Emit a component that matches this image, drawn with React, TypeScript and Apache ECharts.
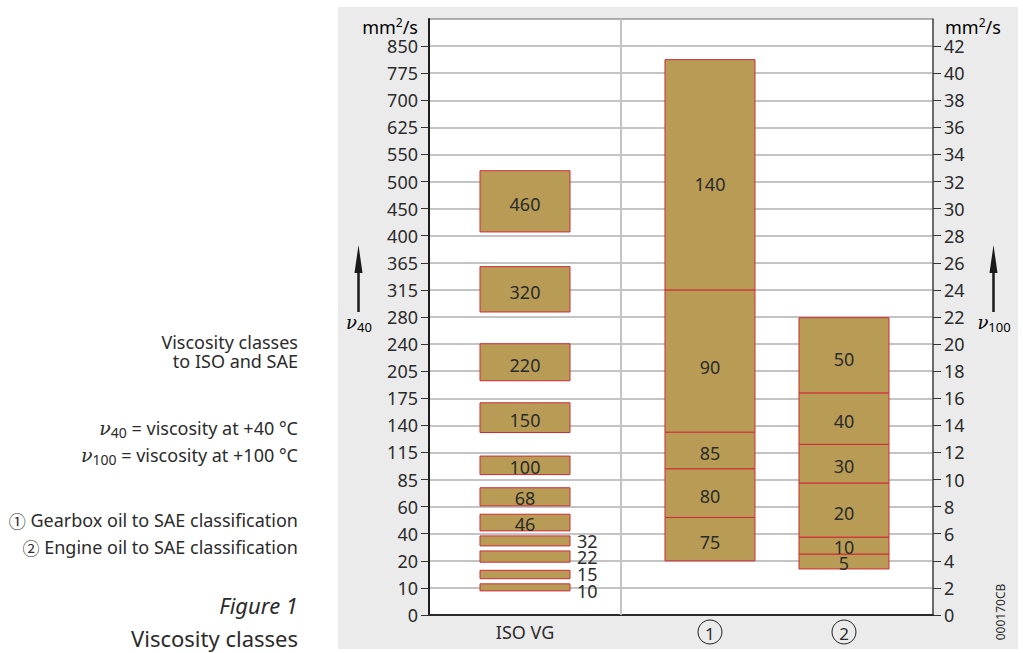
import React, { useEffect, useRef } from "react";
import * as echarts from "echarts";

// ---------- data ----------
// left axis (ν40, mm²/s) tick labels – one per grid step
const leftTickLabels = ["0", "10", "20", "40", "60", "85", "115", "140", "175", "205", "240", "280", "315", "365", "400", "450", "500", "550", "625", "700", "775", "850"];
// right axis (ν100, mm²/s) tick values
const rightTickValues = [0, 2, 4, 6, 8, 10, 12, 14, 16, 18, 20, 22, 24, 26, 28, 30, 32, 34, 36, 38, 40, 42];

const categories = ["ISO VG", "1", "2"];

// ISO VG classes, drawn on the ν40 scale (mm²/s)
const isoClasses = ["10", "15", "22", "32", "46", "68", "100", "150", "220", "320", "460"];
const isoLow = [8.9, 13.4, 19.5, 31, 42.1, 60.7, 90.5, 133.4, 194.4, 286.5, 407];
const isoHigh = [11.5, 16.5, 27.3, 38.4, 54.4, 77.4, 111, 169.2, 240.5, 358, 520];

// SAE gearbox oil classes (ν100, mm²/s) – bounds between consecutive classes
const gearClasses = ["75", "80", "85", "90", "140"];
const gearBounds = [4, 7.2, 10.8, 13.5, 24, 41];

// SAE engine oil classes (ν100, mm²/s)
const engineClasses = ["5", "10", "20", "30", "40", "50"];
const engineBounds = [3.4, 4.5, 5.75, 9.75, 12.6, 16.4, 21.95];

// ---------- layout / style ----------
const FONT = "'Noto Sans', 'Open Sans', sans-serif";
const SERIF = "'DejaVu Serif', 'Liberation Serif', serif";
const TEXT = "#2b2b2b";
const BOX_FILL = "#b89c56";
const BOX_STROKE = "#d02a38";
const GRID_LINE = "#c4c4c4";
const COL_X = [19.05, 55.75, 82.34]; // centre of each column on the 0..100 x scale
const DIVIDER_X = 38.04;
const BOX_W = 90;
const OUTSIDE_LABEL_GAP = 16.5;

const leftTickValues = leftTickLabels.map(Number);
function nu40ToAxis(v: number): number {
  for (let i = 0; i < leftTickValues.length - 1; i++) {
    const a = leftTickValues[i];
    const b = leftTickValues[i + 1];
    if (v <= b) return 2 * i + (2 * (v - a)) / (b - a);
  }
  return 2 * (leftTickValues.length - 1);
}

const boxData: number[][] = [];
const boxLabels: string[] = [];
isoClasses.forEach((c, i) => {
  boxData.push([COL_X[0], nu40ToAxis(isoLow[i]), nu40ToAxis(isoHigh[i])]);
  boxLabels.push(c);
});
gearClasses.forEach((c, i) => {
  boxData.push([COL_X[1], gearBounds[i], gearBounds[i + 1]]);
  boxLabels.push(c);
});
engineClasses.forEach((c, i) => {
  boxData.push([COL_X[2], engineBounds[i], engineBounds[i + 1]]);
  boxLabels.push(c);
});

const catData = categories.map((_, i) => [COL_X[i], 0]);

export default function App() {
  const ref = useRef<HTMLDivElement>(null);

  useEffect(() => {
    if (!ref.current) return;
    const chart = echarts.init(ref.current, undefined, { renderer: "svg" });

    const nuRich = {
      n: { fontFamily: SERIF, fontStyle: "italic", fontSize: 18, color: TEXT },
      s: { fontFamily: FONT, fontSize: 13, padding: [9, 0, 0, 0], color: TEXT },
    };
    const descRich = {
      n: { fontFamily: SERIF, fontStyle: "italic", fontSize: 19, color: TEXT },
      s: { fontFamily: FONT, fontSize: 14, padding: [9, 0, 0, 0], color: TEXT },
      t: { fontFamily: FONT, fontSize: 18, color: TEXT },
      c: { fontFamily: "'Noto Sans CJK SC', sans-serif", fontSize: 17, color: TEXT },
    };
    const unitRich = {
      a: { fontFamily: FONT, fontSize: 18, color: TEXT },
      b: { fontFamily: FONT, fontSize: 12, padding: [0, 0, 9, 0], color: TEXT },
    };

    const txt = (text: string, x: number, y: number, extra: any = {}) => ({
      type: "text",
      x,
      y,
      style: {
        text,
        fill: TEXT,
        fontFamily: FONT,
        fontSize: 18,
        align: "right",
        textAlign: "right",
        verticalAlign: "middle",
        textVerticalAlign: "middle",
        ...extra,
      },
    });

    // vertical positions of labels placed beside thin boxes (spread so they do not collide)
    const outsideY: Record<number, number> = {};

    const option: any = {
      animation: false,
      grid: {
        left: 429,
        right: 90,
        top: 19,
        bottom: 38,
        show: true,
        backgroundColor: "#ffffff",
        borderColor: "#666666",
        borderWidth: 1,
      },
      xAxis: {
        type: "value",
        min: 0,
        max: 100,
        axisLine: { show: true, onZero: false, lineStyle: { color: "#2a2a2a", width: 2 } },
        axisTick: { show: false },
        axisLabel: { show: false },
        splitLine: { show: false },
      },
      yAxis: [
        {
          type: "value",
          position: "left",
          min: 0,
          max: 44,
          interval: 2,
          axisLine: { show: true, lineStyle: { color: "#1e1e1e", width: 2 } },
          axisTick: {
            show: true,
            length: 8,
            customValues: rightTickValues,
            lineStyle: { color: "#333333", width: 1 },
          },
          axisLabel: {
            customValues: rightTickValues,
            margin: 11,
            fontSize: 18,
            fontFamily: FONT,
            color: TEXT,
            formatter: (v: number) => leftTickLabels[Math.round(v / 2)] ?? "",
          },
          splitLine: { show: true, lineStyle: { color: GRID_LINE, width: 2 } },
        },
        {
          type: "value",
          position: "right",
          min: 0,
          max: 44,
          interval: 2,
          axisLine: { show: true, lineStyle: { color: "#555555", width: 1.5 } },
          axisTick: {
            show: true,
            length: 8,
            customValues: rightTickValues,
            lineStyle: { color: "#333333", width: 1 },
          },
          axisLabel: {
            customValues: rightTickValues,
            margin: 11,
            fontSize: 18,
            fontFamily: FONT,
            color: TEXT,
            formatter: (v: number) => String(v),
          },
          splitLine: { show: false },
        },
      ],
      series: [
        {
          type: "custom",
          name: "classes",
          xAxisIndex: 0,
          yAxisIndex: 0,
          data: boxData,
          clip: false,
          renderItem: (params: any, api: any) => {
            const cx = api.value(0);
            const lo = api.value(1);
            const hi = api.value(2);
            const pLo = api.coord([cx, lo]);
            const pHi = api.coord([cx, hi]);
            const h = pLo[1] - pHi[1];
            const outside = h < 13;
            const label = boxLabels[params.dataIndex];
            const mid = (pLo[1] + pHi[1]) / 2;
            let ly = mid + 1 + h * 0.035;
            if (outside) {
              // compute spread positions from the top-most thin box downwards
              const thin: { i: number; m: number }[] = [];
              for (let k = 0; k < boxData.length; k++) {
                if (boxData[k][0] !== cx) continue;
                const a = api.coord([boxData[k][0], boxData[k][1]]);
                const b = api.coord([boxData[k][0], boxData[k][2]]);
                if (a[1] - b[1] < 13) thin.push({ i: k, m: (a[1] + b[1]) / 2 });
              }
              thin.sort((p, q) => p.m - q.m);
              let prev = -Infinity;
              thin.forEach((t) => {
                const y = Math.max(t.m, prev + OUTSIDE_LABEL_GAP);
                outsideY[t.i] = y;
                prev = y;
              });
              ly = outsideY[params.dataIndex];
            }
            return {
              type: "group",
              children: [
                {
                  type: "rect",
                  shape: { x: pLo[0] - BOX_W / 2, y: pHi[1], width: BOX_W, height: h },
                  style: { fill: BOX_FILL, stroke: BOX_STROKE, lineWidth: 1 },
                },
                {
                  type: "text",
                  x: outside ? pLo[0] + BOX_W / 2 + 7 : pLo[0],
                  y: ly,
                  style: {
                    text: label,
                    fill: TEXT,
                    fontSize: 18,
                    fontFamily: FONT,
                    align: outside ? "left" : "center",
                    verticalAlign: "middle",
                  },
                },
              ],
            };
          },
          markLine: {
            silent: true,
            symbol: ["none", "none"],
            label: { show: false },
            lineStyle: { color: GRID_LINE, width: 2, type: "solid" },
            data: [{ xAxis: DIVIDER_X }],
          },
          z: 3,
        },
        {
          type: "custom",
          name: "categories",
          data: catData,
          clip: false,
          renderItem: (params: any, api: any) => {
            const p = api.coord([api.value(0), api.value(1)]);
            const label = categories[params.dataIndex];
            const y = p[1] + 17;
            const children: any[] = [];
            if (/^\d+$/.test(label)) {
              children.push({
                type: "circle",
                shape: { cx: p[0], cy: y, r: 12 },
                style: { fill: "none", stroke: "#222222", lineWidth: 1 },
              });
              children.push({
                type: "text",
                x: p[0],
                y: y + 1,
                style: { text: label, fill: TEXT, fontSize: 17, fontFamily: FONT, align: "center", verticalAlign: "middle" },
              });
            } else {
              children.push({
                type: "text",
                x: p[0],
                y: y,
                style: { text: label, fill: TEXT, fontSize: 18, fontFamily: FONT, align: "center", verticalAlign: "middle" },
              });
            }
            return { type: "group", children };
          },
        },
      ],
      graphic: [
        { type: "rect", z: -10, shape: { x: 338, y: 7, width: 680, height: 642 }, style: { fill: "#ebebeb" } },
        // units
        {
          type: "text",
          x: 418,
          y: 27,
          style: { text: "{a|mm}{b|2}{a|/s}", rich: unitRich, align: "right", textAlign: "right", verticalAlign: "middle", textVerticalAlign: "middle" },
        },
        {
          type: "text",
          x: 945,
          y: 27,
          style: { text: "{a|mm}{b|2}{a|/s}", rich: unitRich, align: "left", textAlign: "left", verticalAlign: "middle", textVerticalAlign: "middle" },
        },
        // arrows
        { type: "line", shape: { x1: 358.5, y1: 268, x2: 358.5, y2: 312 }, style: { stroke: "#1a1a1a", lineWidth: 2.5 } },
        { type: "polygon", shape: { points: [[358.5, 245], [354.5, 273], [362.5, 273]] }, style: { fill: "#1a1a1a" } },
        { type: "line", shape: { x1: 993.5, y1: 268, x2: 993.5, y2: 312 }, style: { stroke: "#1a1a1a", lineWidth: 2.5 } },
        { type: "polygon", shape: { points: [[993.5, 245], [989.5, 273], [997.5, 273]] }, style: { fill: "#1a1a1a" } },
        {
          type: "text",
          x: 359,
          y: 322,
          style: { text: "{n|ν}{s|40}", rich: nuRich, align: "center", textAlign: "center", verticalAlign: "middle", textVerticalAlign: "middle" },
        },
        {
          type: "text",
          x: 994,
          y: 322,
          style: { text: "{n|ν}{s|100}", rich: nuRich, align: "center", textAlign: "center", verticalAlign: "middle", textVerticalAlign: "middle" },
        },
        // figure code
        {
          type: "text",
          x: 1000,
          y: 612,
          rotation: Math.PI / 2,
          style: { text: "000170CB", fill: TEXT, fontSize: 12, fontFamily: FONT, align: "center", textAlign: "center", verticalAlign: "middle", textVerticalAlign: "middle" },
        },
        // left descriptions
        txt("Viscosity classes", 298, 342),
        txt("to ISO and SAE", 298, 361),
        txt("{n|ν}{s|40}{t| = viscosity at +40 °C}", 298, 428, { rich: descRich }),
        txt("{n|ν}{s|100}{t| = viscosity at +100 °C}", 298, 455, { rich: descRich }),
        txt("{c|①}{t| Gearbox oil to SAE classification}", 298, 520, { rich: descRich }),
        txt("{c|②}{t| Engine oil to SAE classification}", 298, 547, { rich: descRich }),
        txt("Figure 1", 298, 605, { fontSize: 22, fontStyle: "italic" }),
        txt("Viscosity classes", 298, 638, { fontSize: 22 }),
      ],
    };

    chart.setOption(option);
    return () => chart.dispose();
  }, []);

  return (
    <div
      ref={ref}
      style={{ position: "absolute", left: 0, top: 0, width: 1023, height: 653, background: "#ffffff" }}
    />
  );
}
